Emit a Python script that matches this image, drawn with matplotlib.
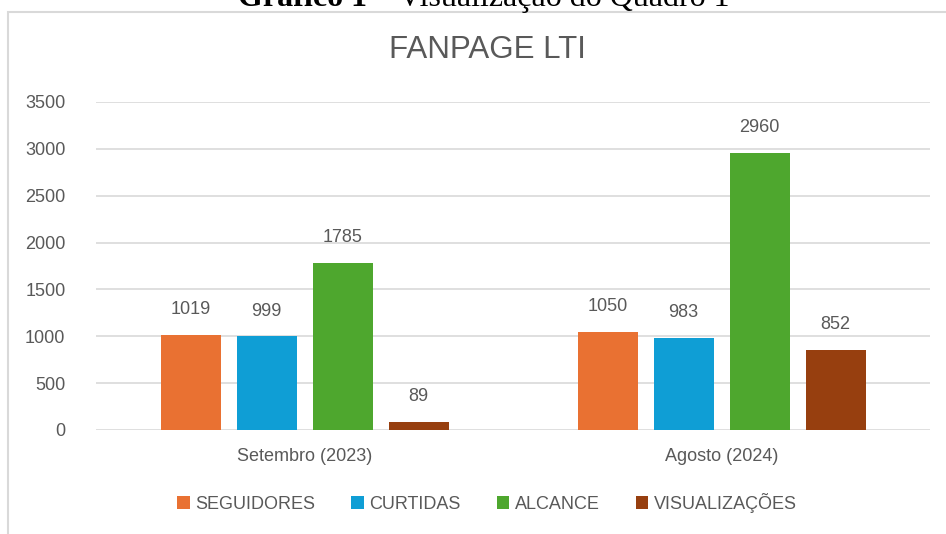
import matplotlib
matplotlib.use("Agg")
import matplotlib.pyplot as plt
import numpy as np
from matplotlib.patches import Rectangle

categories = ["Setembro (2023)", "Agosto (2024)"]
series_names = ["SEGUIDORES", "CURTIDAS", "ALCANCE", "VISUALIZAÇÕES"]
seguidores = [1019, 1050]
curtidas = [999, 983]
alcance = [1785, 2960]
visualizacoes = [89, 852]
colors = ["#E97132", "#0F9ED5", "#4EA72E", "#973F0F"]
yticks = [0, 500, 1000, 1500, 2000, 2500, 3000, 3500]

plt.rcParams['font.family'] = ['Liberation Sans', 'DejaVu Sans']

W, H = 946, 534
fig = plt.figure(figsize=(W/100, H/100), dpi=100)
fig.patch.set_facecolor("white")

# outer frame
fig.patches.append(Rectangle((8/W, -0.05), 1.1, 1 - 12/H + 0.05, transform=fig.transFigure,
                             fill=False, edgecolor="#d9d9d9", linewidth=1.5))

ax = fig.add_axes([96/W, 1 - 430/H, (930-96)/W, (430-102)/H])
data = [seguidores, curtidas, alcance, visualizacoes]
x = np.arange(len(categories))
bw = 60/417
step = 76/417
grey = "#595959"
for i, (vals, c, name) in enumerate(zip(data, colors, series_names)):
    pos = x + (i - 1.5) * step
    ax.bar(pos, vals, width=bw, color=c, label=name, zorder=3)
    for p, v in zip(pos, vals):
        ax.annotate(str(v), (p, v), xytext=(0, 12), textcoords="offset points",
                    ha="center", va="bottom", fontsize=13, color=grey)

ax.set_xlim(-0.5, 1.5)
ax.set_ylim(0, 3500)
ax.set_yticks(yticks)
ax.set_xticks(x)
ax.set_xticklabels(categories)
ax.grid(axis="y", color="#d9d9d9", linewidth=1.2, zorder=0)
for s in ax.spines.values():
    s.set_visible(False)
ax.tick_params(axis="both", length=0, labelsize=13, colors=grey)
ax.tick_params(axis="y", pad=22)
ax.tick_params(axis="x", pad=13)

fig.text(487/W, 1 - 50/H, "FANPAGE LTI", ha="center", va="center", fontsize=22.5, color=grey)

fig.legend(loc="center", bbox_to_anchor=(487/W, 1 - 503/H), ncol=4, frameon=False,
           fontsize=13, handlelength=0.7, handleheight=0.7, handletextpad=0.3,
           columnspacing=2.0, labelcolor=grey)

# caption cut at top: bold part + regular part
serif = ["Liberation Serif", "DejaVu Serif"]
cap_fs = 23
t1 = fig.text(0, 1 - 6/H, "Gráfico 1", ha="left", va="baseline", fontsize=cap_fs,
              family=serif, weight="bold", color="black")
t2 = fig.text(0, 1 - 6/H, " – Visualização do Quadro 1", ha="left", va="baseline",
              fontsize=cap_fs, family=serif, color="black")
fig.canvas.draw()
r = fig.canvas.get_renderer()
w1 = t1.get_window_extent(r).width
w2 = t2.get_window_extent(r).width
left = 484 - (w1 + w2) / 2
t1.set_x(left / W)
t2.set_x((left + w1) / W)

fig.savefig("out.png", dpi=100)
